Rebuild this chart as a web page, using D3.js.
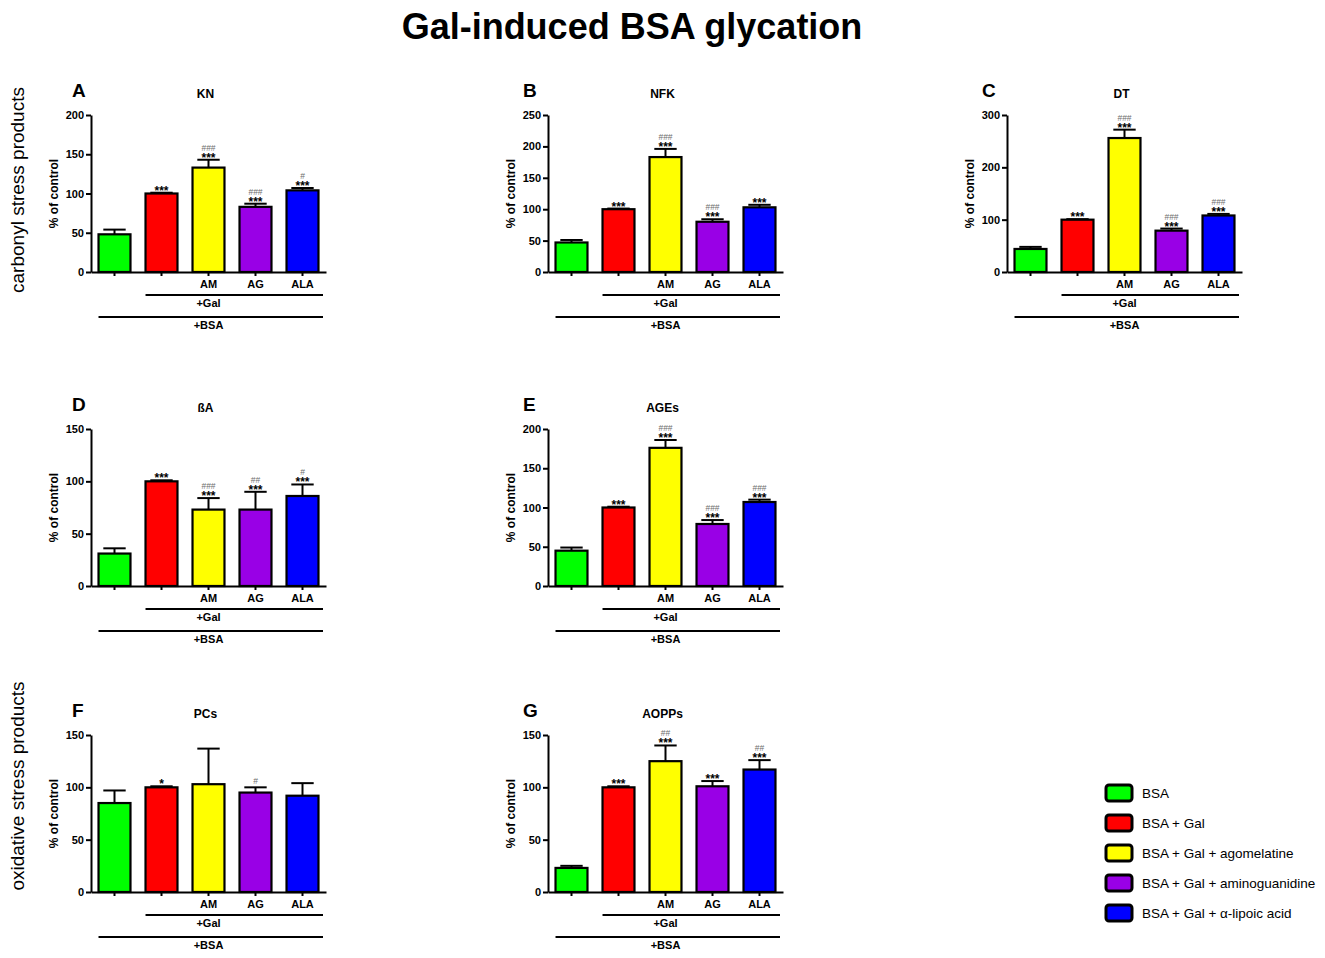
<!DOCTYPE html>
<html>
<head>
<meta charset="utf-8">
<script src="https://cdn.jsdelivr.net/npm/d3@7"></script>
<style>
  body { margin: 0; background: #fff; }
  text { font-family: Arial, "Liberation Sans", sans-serif; }
</style>
</head>
<body>
<script>
// groups, shared by all panels
const groups = ["BSA", "BSA + Gal", "BSA + Gal + agomelatine", "BSA + Gal + aminoguanidine", "BSA + Gal + \u03b1-lipoic acid"];
const tickLabels = ["", "", "AM", "AG", "ALA"];
const colors = ["#00ff00", "#ff0000", "#ffff00", "#9900e6", "#0000ff"];

// values (% of control), upper SEM, significance marks
const knMean = [48, 100, 133, 83, 104];
const knErr = [6, 1, 10, 4, 3];
const knStars = ["", "***", "***", "***", "***"];
const knHash = ["", "", "###", "###", "#"];

const nfkMean = [47, 100, 183, 80, 103];
const nfkErr = [4, 1, 13, 4, 4];
const nfkStars = ["", "***", "***", "***", "***"];
const nfkHash = ["", "", "###", "###", ""];

const dtMean = [44, 100, 256, 79, 108];
const dtErr = [4, 1, 16, 4, 3];
const dtStars = ["", "***", "***", "***", "***"];
const dtHash = ["", "", "###", "###", "###"];

const baMean = [31, 100, 73, 73, 86];
const baErr = [5, 1, 11, 17, 11];
const baStars = ["", "***", "***", "***", "***"];
const baHash = ["", "", "###", "##", "#"];

const agesMean = [45, 100, 176, 79, 107];
const agesErr = [4, 1, 10, 5, 3];
const agesStars = ["", "***", "***", "***", "***"];
const agesHash = ["", "", "###", "###", "###"];

const pcsMean = [85, 100, 103, 95, 92];
const pcsErr = [12, 1, 34, 5, 12];
const pcsStars = ["", "*", "", "", ""];
const pcsHash = ["", "", "", "#", ""];

const aoppsMean = [23, 100, 125, 101, 117];
const aoppsErr = [2, 1, 15, 5, 9];
const aoppsStars = ["", "***", "***", "***", "***"];
const aoppsHash = ["", "", "##", "", "##"];

const panelLetters = ["A", "B", "C", "D", "E", "F", "G"];
const panelTitles = ["KN", "NFK", "DT", "\u00dfA", "AGEs", "PCs", "AOPPs"];
const yMax = [200, 250, 300, 150, 200, 150, 150];
const yStep = [50, 50, 100, 50, 50, 50, 50];

const panels = [
  {mean: knMean, err: knErr, stars: knStars, hash: knHash},
  {mean: nfkMean, err: nfkErr, stars: nfkStars, hash: nfkHash},
  {mean: dtMean, err: dtErr, stars: dtStars, hash: dtHash},
  {mean: baMean, err: baErr, stars: baStars, hash: baHash},
  {mean: agesMean, err: agesErr, stars: agesStars, hash: agesHash},
  {mean: pcsMean, err: pcsErr, stars: pcsStars, hash: pcsHash},
  {mean: aoppsMean, err: aoppsErr, stars: aoppsStars, hash: aoppsHash}
];

// layout
const width = 1325, height = 958;
const colX = [91, 548, 1007];      // y-axis position of each column
const rowBottom = [272, 586, 892];  // x-axis position of each row
const plotW = 235, plotH = 157;
const cells = [[0, 0], [0, 1], [0, 2], [1, 0], [1, 1], [2, 0], [2, 1]];

const svg = d3.select("body").append("svg")
    .attr("width", width)
    .attr("height", height);

svg.append("text")
    .attr("x", 632)
    .attr("y", 39)
    .attr("text-anchor", "middle")
    .style("font-size", "36px")
    .style("font-weight", "bold")
    .text("Gal-induced BSA glycation");

// row labels on the far left
[["carbonyl stress products", 190], ["oxidative stress products", 786]].forEach(([t, cy]) => {
    svg.append("text")
        .attr("transform", "translate(24," + cy + ") rotate(-90)")
        .attr("text-anchor", "middle")
        .style("font-size", "19px")
        .text(t);
});

panels.forEach((p, k) => {
    const ax = colX[cells[k][1]];
    const bottom = rowBottom[cells[k][0]];
    const top = bottom - plotH;

    const x = d3.scaleBand()
        .domain(d3.range(groups.length))
        .range([ax, ax + plotW])
        .paddingInner(0.32)
        .paddingOuter(0.16);
    const y = d3.scaleLinear()
        .domain([0, yMax[k]])
        .range([bottom, top]);

    const g = svg.append("g");

    // panel letter and title
    g.append("text")
        .attr("x", cells[k][1] === 0 ? ax - 19 : ax - 25)
        .attr("y", top - 18)
        .style("font-size", "19px")
        .style("font-weight", "bold")
        .text(panelLetters[k]);
    g.append("text")
        .attr("x", ax + plotW / 2 - 3)
        .attr("y", top - 17)
        .attr("text-anchor", "middle")
        .style("font-size", "12px")
        .style("font-weight", "bold")
        .text(panelTitles[k]);

    // bars
    g.selectAll("rect.bar")
        .data(p.mean)
        .enter().append("rect")
        .attr("class", "bar")
        .attr("x", (d, i) => x(i))
        .attr("y", d => y(d))
        .attr("width", x.bandwidth())
        .attr("height", d => bottom - y(d))
        .style("fill", (d, i) => colors[i])
        .style("stroke", "black")
        .style("stroke-width", 2.2);

    // upper error bars
    const cap = x.bandwidth() * 0.7;
    p.mean.forEach((m, i) => {
        const cx = x(i) + x.bandwidth() / 2;
        const yTop = y(m + p.err[i]);
        g.append("line")
            .attr("x1", cx).attr("x2", cx)
            .attr("y1", y(m)).attr("y2", yTop)
            .style("stroke", "black").style("stroke-width", 2);
        g.append("line")
            .attr("x1", cx - cap / 2).attr("x2", cx + cap / 2)
            .attr("y1", yTop).attr("y2", yTop)
            .style("stroke", "black").style("stroke-width", 2);

        if (p.stars[i]) {
            g.append("text")
                .attr("x", cx)
                .attr("y", yTop + 2)
                .attr("text-anchor", "middle")
                .style("font-size", "12px")
                .style("font-weight", "bold")
                .text(p.stars[i]);
        }
        if (p.hash[i]) {
            g.append("text")
                .attr("x", cx)
                .attr("y", p.stars[i] ? yTop - 9 : yTop - 3)
                .attr("text-anchor", "middle")
                .style("font-size", "8.5px")
                .style("fill", "#6e6e6e")
                .text(p.hash[i]);
        }
    });

    // y axis
    const yAxis = g.append("g")
        .attr("transform", "translate(" + ax + ",0)")
        .call(d3.axisLeft(y)
            .tickValues(d3.range(0, yMax[k] + 1, yStep[k]))
            .tickSize(5)
            .tickSizeOuter(0)
            .tickPadding(2));
    yAxis.selectAll("path, line").style("stroke", "black").style("stroke-width", 2);
    yAxis.selectAll("text")
        .style("font-size", "11px")
        .style("font-weight", "bold")
        .style("font-family", "Arial, 'Liberation Sans', sans-serif");

    // x axis
    const xAxis = g.append("g")
        .attr("transform", "translate(0," + bottom + ")")
        .call(d3.axisBottom(x)
            .tickSize(4)
            .tickSizeOuter(0)
            .tickPadding(4)
            .tickFormat(i => tickLabels[i]));
    xAxis.selectAll("path, line").style("stroke", "black").style("stroke-width", 2);
    xAxis.selectAll("text")
        .style("font-size", "11px")
        .style("font-weight", "bold")
        .style("font-family", "Arial, 'Liberation Sans', sans-serif");

    g.append("text")
        .attr("transform", "translate(" + (ax - 33) + "," + (bottom - plotH / 2) + ") rotate(-90)")
        .attr("text-anchor", "middle")
        .style("font-size", "12px")
        .style("font-weight", "bold")
        .text("% of control");

    // treatment lines under the axis
    const lineEnd = ax + plotW - 3;
    g.append("line")
        .attr("x1", x(1)).attr("x2", lineEnd)
        .attr("y1", bottom + 23).attr("y2", bottom + 23)
        .style("stroke", "black").style("stroke-width", 2);
    g.append("text")
        .attr("x", ax + plotW / 2)
        .attr("y", bottom + 35)
        .attr("text-anchor", "middle")
        .style("font-size", "11px")
        .style("font-weight", "bold")
        .text("+Gal");
    g.append("line")
        .attr("x1", x(0)).attr("x2", lineEnd)
        .attr("y1", bottom + 45).attr("y2", bottom + 45)
        .style("stroke", "black").style("stroke-width", 2);
    g.append("text")
        .attr("x", ax + plotW / 2)
        .attr("y", bottom + 57)
        .attr("text-anchor", "middle")
        .style("font-size", "11px")
        .style("font-weight", "bold")
        .text("+BSA");
});

// legend
const legend = svg.append("g").attr("transform", "translate(1106,793)");
groups.forEach((gName, i) => {
    legend.append("rect")
        .attr("x", 0)
        .attr("y", i * 30 - 8)
        .attr("width", 26)
        .attr("height", 16)
        .attr("rx", 3)
        .style("fill", colors[i])
        .style("stroke", "black")
        .style("stroke-width", 3);
    legend.append("text")
        .attr("x", 36)
        .attr("y", i * 30)
        .attr("dy", "0.35em")
        .style("font-size", "13.5px")
        .text(gName);
});
</script>
</body>
</html>
